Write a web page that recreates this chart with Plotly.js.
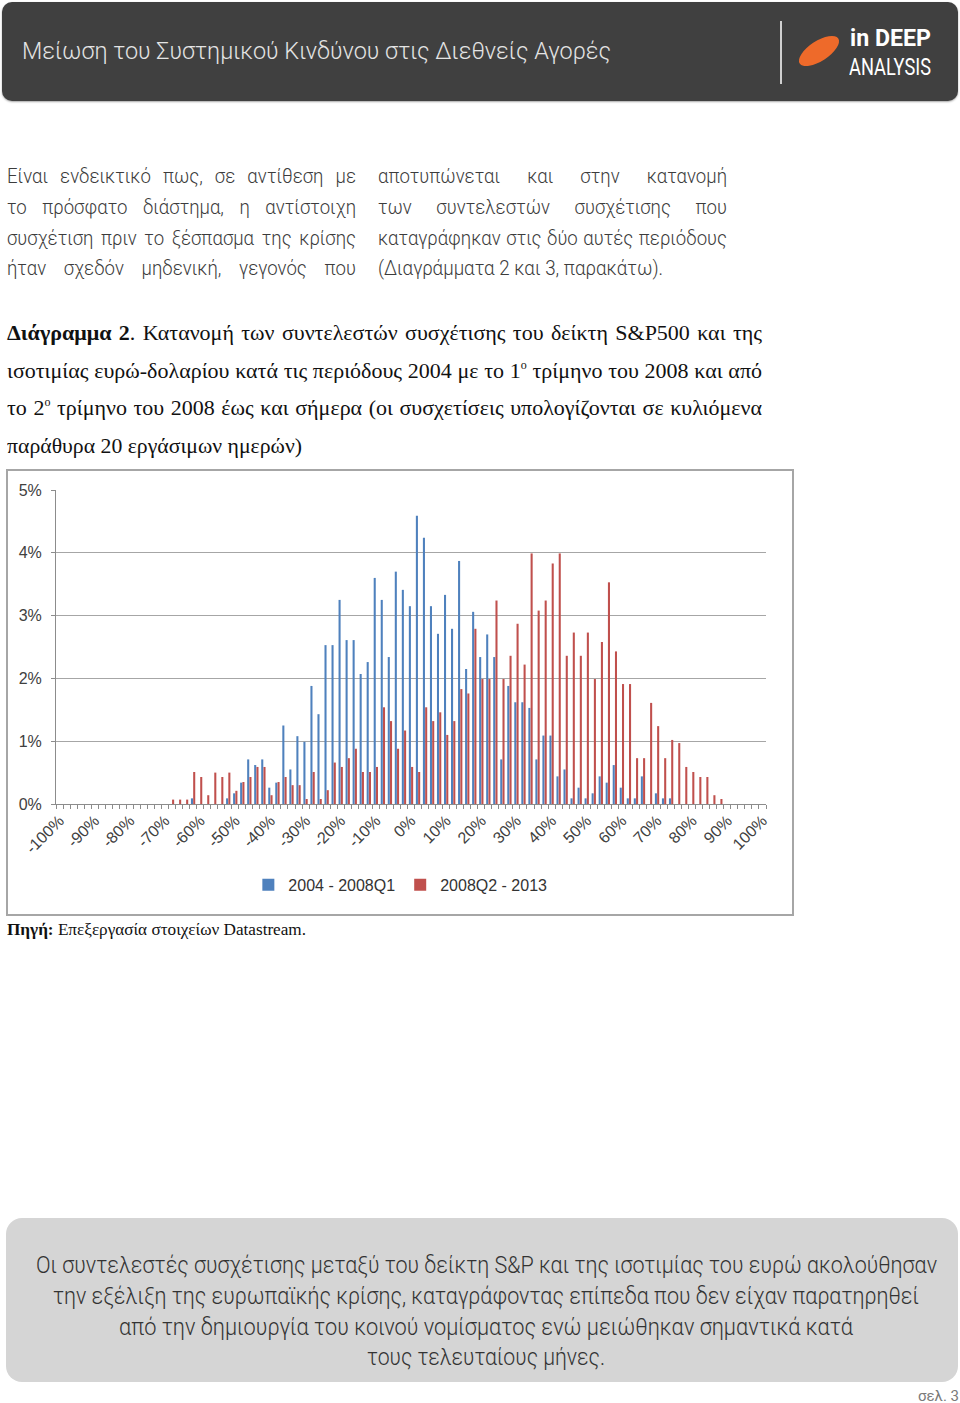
<!DOCTYPE html>
<html>
<head>
<meta charset="utf-8">
<script src="https://cdn.plot.ly/plotly-3.0.1.min.js"></script>
<style>
html,body{margin:0;padding:0;background:#fff;}
body{width:960px;height:1403px;position:relative;overflow:hidden;font-family:Roboto,"Noto Sans",sans-serif;}
.t{position:absolute;white-space:nowrap;transform-origin:0 50%;}
.p{font-size:20px;line-height:26px;color:#3c3c3c;font-weight:300;}
.c{font-family:"Liberation Serif","DejaVu Serif",serif;font-size:22px;line-height:28px;color:#111;}
.c sup{font-size:12px;vertical-align:9px;line-height:0;}
.bx{font-size:24px;line-height:30px;color:#333;font-weight:300;}
</style>
</head>
<body>
<!-- header -->
<div style="position:absolute;left:2px;top:2px;width:956px;height:99px;background:#404040;border-radius:10px;box-shadow:0 1px 2px rgba(0,0,0,0.35);"></div>
<div class="t" data-w="589" style="left:22px;top:36px;font-size:24px;line-height:30px;color:#e4e4e4;font-weight:300;">Μείωση του Συστημικού Κινδύνου στις Διεθνείς Αγορές</div>
<div style="position:absolute;left:780px;top:21px;width:2px;height:63px;background:#d0d0d0;"></div>
<svg style="position:absolute;left:790px;top:28px;" width="60" height="48"><ellipse cx="29" cy="23" rx="23" ry="10" fill="#ee6a2a" transform="rotate(-33 29 23)"/></svg>
<div class="t" data-w="81" style="left:850px;top:27px;font-size:24px;line-height:22px;color:#fff;font-weight:700;">in DEEP</div>
<div class="t" data-w="82" style="left:849px;top:56px;font-size:24px;line-height:22px;color:#fff;">ANALYSIS</div>

<!-- paragraph columns -->
<div class="t p" data-m="j" data-w="349" style="left:7px;top:163px;">Είναι ενδεικτικό πως, σε αντίθεση με</div>
<div class="t p" data-m="j" data-w="349" style="left:7px;top:194px;">το πρόσφατο διάστημα, η αντίστοιχη</div>
<div class="t p" data-m="j" data-w="349" style="left:7px;top:225px;">συσχέτιση πριν το ξέσπασμα της κρίσης</div>
<div class="t p" data-m="j" data-w="349" style="left:7px;top:255px;">ήταν σχεδόν μηδενική, γεγονός που</div>
<div class="t p" data-m="j" data-w="349" style="left:378px;top:163px;">αποτυπώνεται και στην κατανομή</div>
<div class="t p" data-m="j" data-w="349" style="left:378px;top:194px;">των συντελεστών συσχέτισης που</div>
<div class="t p" data-m="j" data-w="349" style="left:378px;top:225px;">καταγράφηκαν στις δύο αυτές περιόδους</div>
<div class="t p" data-w="285" style="left:378px;top:255px;">(Διαγράμματα 2 και 3, παρακάτω).</div>

<!-- caption -->
<div class="t c" data-m="j" data-sx="1" data-w="755" style="left:7px;top:319px;"><b>Διάγραμμα 2</b>. Κατανομή των συντελεστών συσχέτισης του δείκτη S&amp;P500 και της</div>
<div class="t c" data-m="j" data-sx="1" data-w="755" style="left:7px;top:357px;">ισοτιμίας ευρώ-δολαρίου κατά τις περιόδους 2004 με το 1<sup>ο</sup> τρίμηνο του 2008 και από</div>
<div class="t c" data-m="j" data-sx="1" data-w="755" style="left:7px;top:394px;">το 2<sup>ο</sup> τρίμηνο του 2008 έως και σήμερα (οι συσχετίσεις υπολογίζονται σε κυλιόμενα</div>
<div class="t c" data-w="295" style="left:7px;top:432px;">παράθυρα 20 εργάσιμων ημερών)</div>

<!-- chart -->
<div style="position:absolute;left:6px;top:469px;width:788px;height:447px;border:2px solid #a6a6a6;box-sizing:border-box;background:#fff;"></div>
<div id="chart" style="position:absolute;left:8px;top:471px;width:784px;height:443px;"></div>

<div class="t c" data-w="299" style="left:7px;top:920px;font-size:16px;line-height:20px;"><b>Πηγή:</b> Επεξεργασία στοιχείων Datastream.</div>

<!-- bottom box -->
<div style="position:absolute;left:6px;top:1218px;width:952px;height:164px;background:#d5d5d5;border-radius:16px;"></div>
<div class="t bx" data-w="901" style="left:36px;top:1250px;">Οι συντελεστές συσχέτισης μεταξύ του δείκτη S&amp;P και της ισοτιμίας του ευρώ ακολούθησαν</div>
<div class="t bx" data-w="866" style="left:53px;top:1281px;">την εξέλιξη της ευρωπαϊκής κρίσης, καταγράφοντας επίπεδα που δεν είχαν παρατηρηθεί</div>
<div class="t bx" data-w="734" style="left:119px;top:1312px;">από την δημιουργία του κοινού νομίσματος ενώ μειώθηκαν σημαντικά κατά</div>
<div class="t bx" data-w="238" style="left:367px;top:1342px;">τους τελευταίους μήνες.</div>

<div class="t" style="left:918px;top:1387px;font-size:15px;line-height:18px;color:#7a7a7a;">σελ. 3</div>

<script>
// ---- data ----
const bins = [-100,-98,-96,-94,-92,-90,-88,-86,-84,-82,-80,-78,-76,-74,-72,-70,-68,-66,-64,-62,-60,-58,-56,-54,-52,-50,-48,-46,-44,-42,-40,-38,-36,-34,-32,-30,-28,-26,-24,-22,-20,-18,-16,-14,-12,-10,-8,-6,-4,-2,0,2,4,6,8,10,12,14,16,18,20,22,24,26,28,30,32,34,36,38,40,42,44,46,48,50,52,54,56,58,60,62,64,66,68,70,72,74,76,78,80,82,84,86,88,90,92,94,96,98,100];

const period1 = [0,0,0,0,0,0,0,0,0,0,0,0,0,0,0,0,
  0,0,0,0.09,0,0,0,0,
  0.09,0.17,0.34,0.71,0.62,0.71,0.26,0.34,1.25,0.55,1.08,0.99,1.88,1.43,2.53,2.53,3.25,2.61,2.61,2.07,2.26,3.60,3.25,2.34,3.70,3.41,
  3.15,4.59,4.24,3.15,2.71,3.33,2.79,3.87,2.15,3.06,2.34,2.70,2.34,0.71,1.88,1.62,1.62,1.53,0.71,1.09,1.09,0.44,0.55,0.09,0.26,0.09,0.17,0.44,0.34,0.62,0.26,0.09,0.09,0.44,0,0.17,0.09,0.09,
  0,0,0,0,0,0,0,0,0,0,0,0,0];

const period2 = [0,0,0,0,0,0,0,0,0,0,0,0,0,0,0,0,
  0.07,0.07,0.07,0.51,0.43,0.14,0.50,0.43,0.50,0.21,0.35,0.43,0.59,0.59,0.14,0.35,0.43,0.30,0.30,0.08,0.51,0.08,0.22,0.66,0.59,0.73,0.88,0.51,0.51,0.59,1.54,1.32,0.88,1.17,
  0.59,0.51,1.54,1.32,1.46,1.10,1.32,1.83,1.76,2.79,1.99,1.99,3.24,1.99,2.36,2.87,2.22,3.99,3.08,3.24,3.83,3.99,2.36,2.73,2.36,2.73,1.99,2.58,3.53,2.43,1.91,1.91,0.73,0.73,1.61,1.24,0.73,1.02,0.97,0.59,0.51,0.43,0.43,0.14,0.08,
  0,0,0,0,0,0,0];

const tickPositions = [-100,-90,-80,-70,-60,-50,-40,-30,-20,-10,0,10,20,30,40,50,60,70,80,90,100];
const tickLabels = ["-100%","-90%","-80%","-70%","-60%","-50%","-40%","-30%","-20%","-10%","0%","10%","20%","30%","40%","50%","60%","70%","80%","90%","100%"];
const boundaryTicks = [-101,-99,-97,-95,-93,-91,-89,-87,-85,-83,-81,-79,-77,-75,-73,-71,-69,-67,-65,-63,-61,-59,-57,-55,-53,-51,-49,-47,-45,-43,-41,-39,-37,-35,-33,-31,-29,-27,-25,-23,-21,-19,-17,-15,-13,-11,-9,-7,-5,-3,-1,1,3,5,7,9,11,13,15,17,19,21,23,25,27,29,31,33,35,37,39,41,43,45,47,49,51,53,55,57,59,61,63,65,67,69,71,73,75,77,79,81,83,85,87,89,91,93,95,97,99,101];
const seriesNames = ["2004 - 2008Q1","2008Q2 - 2013"];

const fontFam = '"Liberation Sans", Arial, sans-serif';
const traces = [
  {type:'bar', x:bins, y:period1, name:seriesNames[0], marker:{color:'#4f81bd'}},
  {type:'bar', x:bins, y:period2, name:seriesNames[1], marker:{color:'#c0504d'}}
];
const layout = {
  width:784, height:443,
  margin:{l:48.3, r:26.3, t:19, b:106.7},
  paper_bgcolor:'rgba(0,0,0,0)', plot_bgcolor:'#fff',
  barmode:'group', bargap:0.36, bargroupgap:0.08,
  showlegend:true,
  legend:{orientation:'h', x:0.485, xanchor:'center', y:-0.2575, yanchor:'middle',
          font:{family:fontFam, size:16, color:'#333'}, itemwidth:30, traceorder:'normal'},
  xaxis:{range:[-101,101], tickmode:'array', tickvals:tickPositions, ticktext:tickLabels,
         tickangle:-45, ticks:'', showgrid:false, zeroline:false,
         showline:true, linecolor:'#8c8c8c', linewidth:1,
         tickfont:{family:fontFam, size:16, color:'#404040'},
         minor:{tickmode:'array', tickvals:boundaryTicks, ticks:'outside', ticklen:4, tickcolor:'#8c8c8c', showgrid:false}},
  yaxis:{range:[0,5], dtick:1, tick0:0, ticksuffix:'%', showgrid:true, gridcolor:'#a6a6a6', gridwidth:1,
         zeroline:false, showline:true, linecolor:'#8c8c8c', ticks:'outside', ticklen:4, tickcolor:'#8c8c8c',
         ticklabelstandoff:6,
         tickfont:{family:fontFam, size:16, color:'#404040'}}
};
Plotly.newPlot('chart', traces, layout, {displayModeBar:false, staticPlot:true});

// ---- text fitting ----
function fitText(){
  document.querySelectorAll('[data-w]').forEach(function(el){
    const target = parseFloat(el.dataset.w);
    el.style.transform = 'none';
    el.style.wordSpacing = '0px';
    const w = el.getBoundingClientRect().width;
    let sx = 1;
    if (el.dataset.m === 'j') {
      sx = parseFloat(el.dataset.sx || '0.93');
      const n = (el.textContent.match(/ /g) || []).length;
      let ws = (target / sx - w) / n;
      if (ws < 0) { sx = target / w; ws = 0; }
      el.style.wordSpacing = ws + 'px';
    } else {
      sx = target / w;
    }
    el.style.transform = 'scaleX(' + sx + ')';
  });
}
fitText();
if (document.fonts && document.fonts.ready) document.fonts.ready.then(fitText);
</script>
</body>
</html>
